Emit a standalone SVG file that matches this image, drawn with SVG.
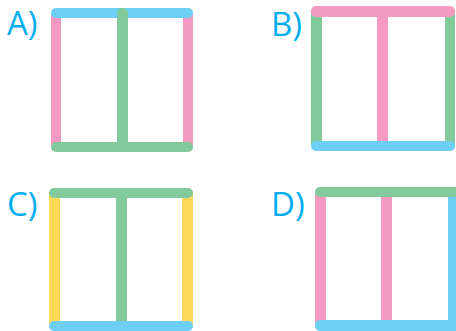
<svg xmlns="http://www.w3.org/2000/svg" width="456" height="331" viewBox="0 0 456 331">
<style>
.lbl{font-family:"Open Sans","Liberation Sans",sans-serif;font-size:33px;fill:#00AEEF}
.b{fill:#6DCFF6}.p{fill:#F49AC1}.g{fill:#82CA9C}.y{fill:#FFD95A}
</style>
<rect width="456" height="331" fill="#fff"/>
<g id="optA">
<text class="lbl" x="7" y="35">A)</text>
<rect class="p" x="51" y="13" width="10" height="134"/>
<rect class="p" x="183" y="13" width="10" height="134"/>
<rect class="b" x="51" y="8" width="142" height="10" rx="5"/>
<rect class="g" x="117" y="8" width="11" height="139" rx="5"/>
<rect class="g" x="51" y="142" width="142" height="10" rx="5"/>
</g>
<g id="optB">
<text class="lbl" x="271" y="36">B)</text>
<rect class="g" x="311" y="11" width="11" height="135"/>
<rect class="g" x="445" y="11" width="10" height="135"/>
<rect class="p" x="311" y="6" width="144" height="11" rx="5"/>
<rect class="p" x="377" y="11" width="11" height="135"/>
<rect class="b" x="311" y="141" width="144" height="10" rx="5"/>
</g>
<g id="optC">
<text class="lbl" x="7" y="216">C)</text>
<rect class="y" x="49" y="193" width="11" height="133"/>
<rect class="y" x="182" y="193" width="11" height="133"/>
<rect class="g" x="49" y="188" width="144" height="10" rx="5"/>
<rect class="g" x="116" y="193" width="11" height="133"/>
<rect class="b" x="49" y="321" width="144" height="10" rx="5"/>
</g>
<g id="optD">
<text class="lbl" x="271" y="216">D)</text>
<rect class="p" x="315" y="192" width="11" height="133"/>
<rect class="p" x="381" y="192" width="11" height="133"/>
<rect class="b" x="448" y="192" width="12" height="133"/>
<rect class="g" x="315" y="187" width="146" height="10" rx="5"/>
<rect class="b" x="315" y="320" width="146" height="11" rx="5"/>
</g>
</svg>
